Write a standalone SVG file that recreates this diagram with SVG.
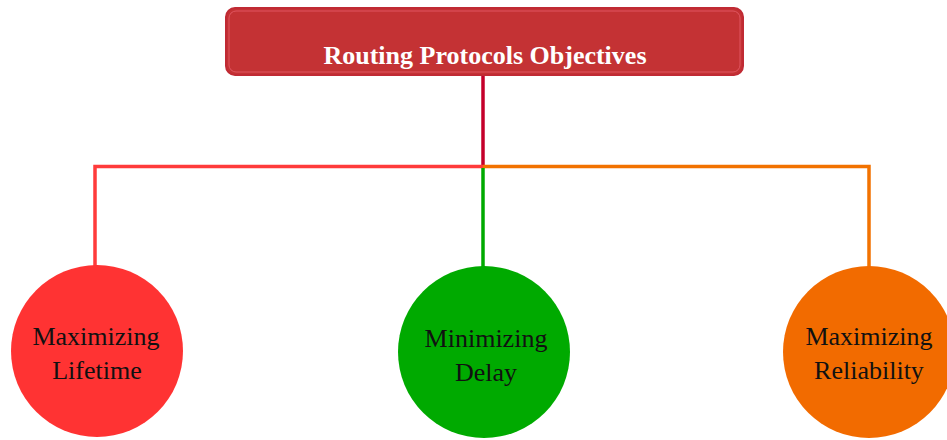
<svg xmlns="http://www.w3.org/2000/svg" width="947" height="440" viewBox="0 0 947 440">
<style>
.lbl{font-family:"Liberation Serif","Times New Roman",serif;font-size:26px;fill:#111;text-anchor:middle}
.title{font-family:"Liberation Serif","Times New Roman",serif;font-size:26px;font-weight:bold;fill:#fff;text-anchor:middle}
.c{fill:none;stroke-width:3.5}
</style>
<rect width="947" height="440" fill="#fff"/>
<g id="connectors">
<line class="c" x1="483" y1="75" x2="483" y2="166" stroke="#c4002a"/>
<polyline class="c" points="95,268 95,166.5 483,166.5" stroke="#ff3b3b"/>
<polyline class="c" points="483,166.5 869,166.5 869,268" stroke="#f27200"/>
<line class="c" x1="483" y1="168" x2="483" y2="270" stroke="#00aa00"/>
</g>
<g id="title">
<rect x="226" y="8" width="517" height="67" rx="9" fill="#c43234" stroke="#c02a34" stroke-width="2"/>
<rect x="229" y="11" width="511" height="61" rx="7" fill="none" stroke="#e05560" stroke-width="1"/>
<text class="title" x="485" y="64">Routing Protocols Objectives</text>
</g>
<g id="lifetime">
<circle cx="97" cy="351" r="86" fill="#ff3333"/>
<text class="lbl" x="96" y="345">Maximizing</text>
<text class="lbl" x="97" y="379">Lifetime</text>
</g>
<g id="delay">
<circle cx="484" cy="352" r="86" fill="#00aa00"/>
<text class="lbl" x="486" y="347">Minimizing</text>
<text class="lbl" x="486" y="381">Delay</text>
</g>
<g id="reliability">
<circle cx="869" cy="352" r="86" fill="#f26b00"/>
<text class="lbl" x="869" y="345">Maximizing</text>
<text class="lbl" x="869" y="379">Reliability</text>
</g>
</svg>
